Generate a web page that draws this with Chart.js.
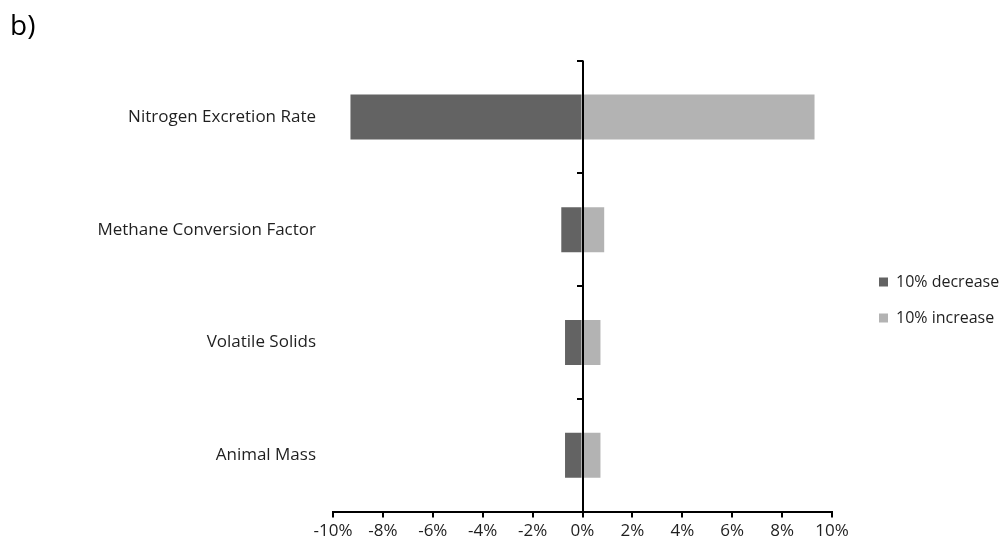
<!DOCTYPE html>
<html>
<head>
<meta charset="utf-8">
<script src="https://cdn.jsdelivr.net/npm/chart.js@4"></script>
<style>
  html, body { margin: 0; padding: 0; background: #fff; }
  #wrap { width: 1005px; height: 544px; position: relative; }
</style>
</head>
<body>
<div id="wrap"><canvas id="c"></canvas></div>
<script>
// Sensitivity of the result to a 10% change in each input parameter (%)
const categories = ['Nitrogen Excretion Rate', 'Methane Conversion Factor', 'Volatile Solids', 'Animal Mass'];
const decreaseValues = [-9.3, -0.85, -0.7, -0.7];
const increaseValues = [9.3, 0.87, 0.72, 0.72];
const seriesNames = ['10% decrease', '10% increase'];
const xTicks = [-10, -8, -6, -4, -2, 0, 2, 4, 6, 8, 10];

const FONT = '"Open Sans", sans-serif';
const TEXT = '#1f1f1f';

// Legend column: reserved width and offset of its content inside that column
const LEGEND_WIDTH = 173;
const LEGEND_SHIFT_X = 27;
const LEGEND_SHIFT_Y = 28;

// Vertical zero line with small ticks between categories
const zeroAxis = {
  id: 'zeroAxis',
  afterDatasetsDraw(chart) {
    const { ctx, chartArea, scales: { x, y } } = chart;
    const x0 = Math.round(x.getPixelForValue(0));
    ctx.save();
    ctx.strokeStyle = '#000';
    ctx.lineWidth = 2;
    ctx.beginPath();
    ctx.moveTo(x0, chartArea.top);
    ctx.lineTo(x0, chartArea.bottom);
    ctx.stroke();
    const half = (y.getPixelForValue(1) - y.getPixelForValue(0)) / 2;
    for (let i = 0; i < categories.length; i++) {
      const yb = Math.round(y.getPixelForValue(i) - half);
      ctx.beginPath();
      ctx.moveTo(x0 - 6, yb);
      ctx.lineTo(x0, yb);
      ctx.stroke();
    }
    ctx.restore();
  }
};

// Fixed-width legend column on the right, content nudged into place
const legendPlacement = {
  id: 'legendPlacement',
  beforeLayout(chart) {
    const lg = chart.legend;
    if (lg && !lg._fixedWidth) {
      const fit = lg.fit.bind(lg);
      lg.fit = function () { fit(); this.width = LEGEND_WIDTH; };
      lg._fixedWidth = true;
    }
  },
  afterLayout(chart) {
    const lg = chart.legend;
    if (!lg) return;
    lg.left += LEGEND_SHIFT_X; lg.right += LEGEND_SHIFT_X;
    lg.top += LEGEND_SHIFT_Y; lg.bottom += LEGEND_SHIFT_Y;
  }
};

new Chart(document.getElementById('c'), {
  type: 'bar',
  data: {
    labels: categories,
    datasets: [
      { label: seriesNames[0], data: decreaseValues, backgroundColor: '#636363' },
      { label: seriesNames[1], data: increaseValues, backgroundColor: '#b3b3b3' }
    ]
  },
  options: {
    indexAxis: 'y',
    responsive: true,
    maintainAspectRatio: false,
    animation: false,
    datasets: { bar: { barPercentage: 0.4, categoryPercentage: 1.0 } },
    layout: { padding: { left: 10, right: 0, top: 0, bottom: 0 } },
    plugins: {
      title: {
        display: true,
        text: 'b)',
        align: 'start',
        color: '#000',
        font: { family: FONT, size: 28, weight: 'normal' },
        padding: { top: 10, bottom: 17 }
      },
      legend: {
        position: 'right',
        labels: {
          boxWidth: 9,
          boxHeight: 9,
          padding: 20,
          color: TEXT,
          font: { family: FONT, size: 16 }
        }
      },
      tooltip: { enabled: false }
    },
    scales: {
      x: {
        stacked: true,
        min: -10,
        max: 10,
        afterBuildTicks(scale) { scale.ticks = xTicks.map(v => ({ value: v })); },
        ticks: {
          color: TEXT,
          font: { family: FONT, size: 17 },
          padding: 3,
          maxRotation: 0,
          callback: v => v + '%'
        },
        grid: { drawOnChartArea: false, drawTicks: true, tickLength: 6, color: '#000', lineWidth: 2 },
        border: { display: true, color: '#000', width: 2 }
      },
      y: {
        stacked: true,
        afterFit(scale) { scale.width = 323; },
        ticks: {
          color: TEXT,
          font: { family: FONT, size: 17 },
          padding: 17
        },
        grid: { display: false, drawTicks: false },
        border: { display: false }
      }
    }
  },
  plugins: [zeroAxis, legendPlacement]
});
</script>
</body>
</html>
